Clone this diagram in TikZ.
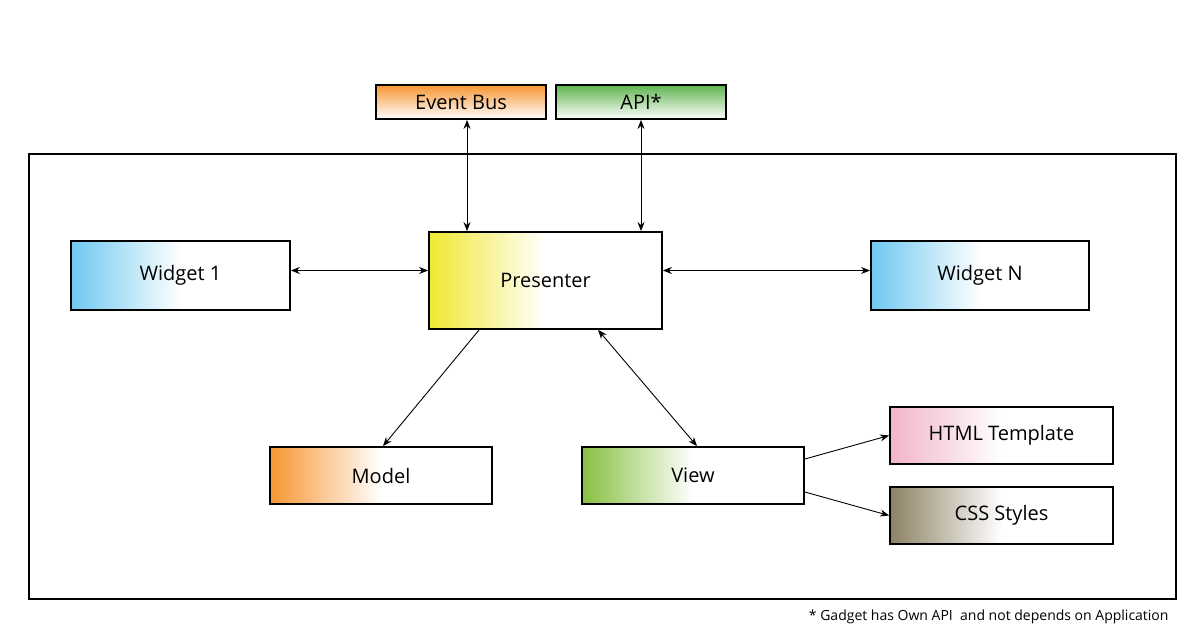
\documentclass[tikz,border=0pt]{standalone}
\usepackage{fontspec}
\setmainfont{Open Sans}
\usetikzlibrary{arrows.meta}
\definecolor{skyblue}{RGB}{110,200,240}
\definecolor{lemon}{RGB}{240,232,50}
\definecolor{tangerine}{RGB}{247,150,50}
\definecolor{leafgreen}{RGB}{135,192,65}
\definecolor{apigreen}{RGB}{95,180,80}
\definecolor{rosepink}{RGB}{242,180,200}
\definecolor{khaki}{RGB}{140,130,100}

\tikzset{
	box/.style={draw=black,line width=1.8pt,minimum width=#1,minimum height=57pt,inner sep=0pt,font=\fontsize{20}{24}\selectfont},
	fadeh/.style={left color=#1,right color=white,middle color=white},
	fadev/.style={top color=#1,bottom color=white},
	arr/.style={line width=0.9pt,{Stealth[length=9pt,width=7pt]}-{Stealth[length=9pt,width=7pt]}},
	arrend/.style={line width=0.9pt,-{Stealth[length=9pt,width=7pt]}}
}

\begin{document}
\begin{tikzpicture}[x=1pt,y=-1pt]
			\useasboundingbox (0,0) rectangle (1198,634);
			\coordinate (c_bus) at (461,102);
			\coordinate (c_api) at (641,102);
			\coordinate (c_pres) at (545.5,280.5);
			\coordinate (c_wone) at (180.5,275.5);
			\coordinate (c_wn) at (980,275.5);
			\coordinate (c_model) at (381,475.5);
			\coordinate (c_view) at (693,475.5);
			\coordinate (c_html) at (1001.5,435.5);
			\coordinate (c_css) at (1001.5,515.5);
			\draw[line width=1.8pt] (29,154) rectangle (1176,599);
			\node[box=170pt,minimum height=34pt,fadev=tangerine] (bus) at (c_bus) {Event Bus};
			\node[box=170pt,minimum height=34pt,fadev=apigreen] (api) at (c_api) {API*};
			\node[box=233pt,minimum height=97pt,fadeh=lemon] (pres) at (c_pres) {Presenter};
			\node[box=219pt,minimum height=69pt,fadeh=skyblue] (wone) at (c_wone) {Widget 1};
			\node[box=218pt,minimum height=69pt,fadeh=skyblue] (wn) at (c_wn) {Widget N};
			\node[box=222pt,fadeh=tangerine] (model) at (c_model) {Model};
			\node[box=222pt,fadeh=leafgreen] (view) at (c_view) {View};
			\node[box=223pt,fadeh=rosepink] (html) at (c_html) {HTML Template};
			\node[box=223pt,fadeh=khaki] (css) at (c_css) {CSS Styles};
			\draw[arr] ([xshift=6pt]bus.south) -- ([xshift=6pt]bus.south |- pres.north);
			\draw[arr] (api.south) -- (api.south |- pres.north);
			\draw[arr] ([yshift=5pt]wone.east) -- ([yshift=5pt]wone.east -| pres.west);
			\draw[arr] ([yshift=5pt]wn.west) -- ([yshift=5pt]wn.west -| pres.east);
			\draw[arrend] ([xshift=51pt]pres.south west) -- ([xshift=2pt]model.north);
			\draw[arr] ([xshift=52.5pt]pres.south) -- ([xshift=4pt]view.north);
			\draw[arrend] ([yshift=16.5pt]view.east) -- (html.west);
			\draw[arrend] ([yshift=-16.5pt]view.east) -- (css.west);
			\node[anchor=base east,font=\fontsize{14}{16}\selectfont] (note) at (1172,620) {* Gadget has Own API\ \ and not depends on Application};
			
		\end{tikzpicture}
\end{document}
